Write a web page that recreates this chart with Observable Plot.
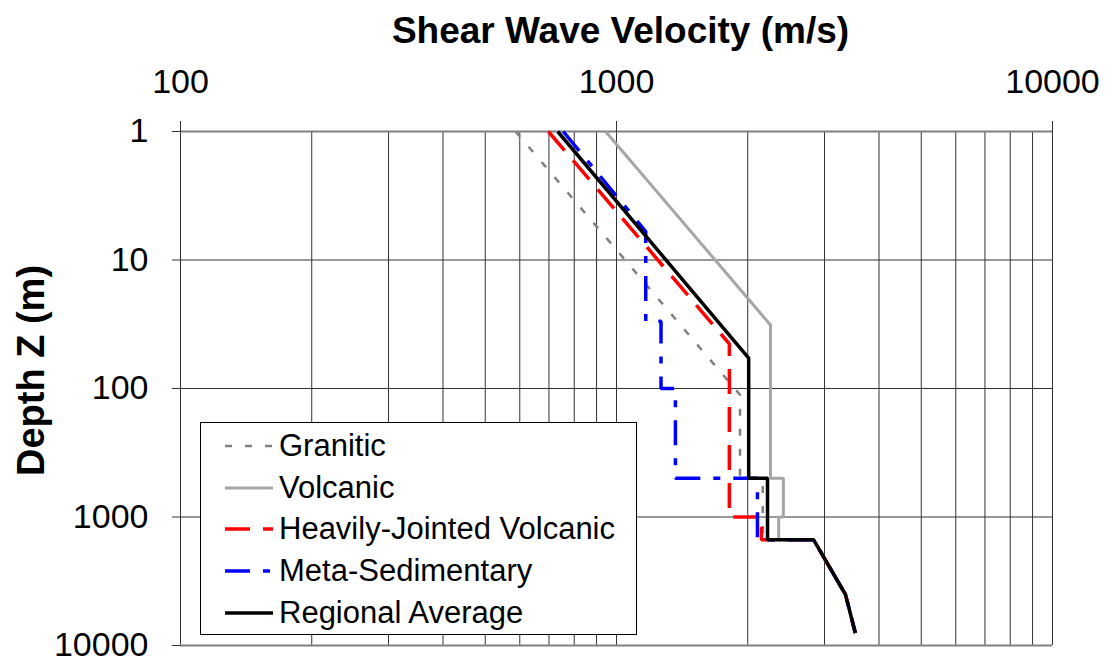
<!DOCTYPE html>
<html>
<head>
<meta charset="utf-8">
<script src="https://cdn.jsdelivr.net/npm/d3@7"></script>
<script src="https://cdn.jsdelivr.net/npm/@observablehq/plot@0.6"></script>
<style>
  body { margin: 0; background: #fff; font-family: "Liberation Sans", Arial, sans-serif; }
  #wrap { position: relative; width: 1116px; height: 666px; }
  #legend { position: absolute; left: 200px; top: 422px; width: 437px; height: 213px;
            border: 1px solid #000; background: #fff; box-sizing: border-box; }
  .row { position: absolute; left: 0; height: 42px; display: flex; align-items: center; }
  .row svg { margin-left: 24px; width: 48px; height: 12px; }
  .row span { margin-left: 6px; font-size: 31px; color: #000; white-space: nowrap; }
</style>
</head>
<body>
<div id="wrap"></div>
<script>
// ---- Data ----
const seriesNames = ["Granitic", "Volcanic", "Heavily-Jointed Volcanic", "Meta-Sedimentary", "Regional Average"];

const graniticVs = [587, 1920, 1920, 2165, 2165, 2830, 3350, 3530];
const graniticZ  = [1, 112, 500, 500, 1500, 1500, 4000, 8000];

const volcanicVs = [944, 2255, 2255, 2414, 2414, 2355, 2355, 2830, 3350, 3530];
const volcanicZ  = [1, 32, 500, 500, 1000, 1000, 1500, 1500, 4000, 8000];

const jointedVs = [698, 1815, 1815, 2150, 2150, 2830, 3350, 3530];
const jointedZ  = [1, 45, 1000, 1000, 1500, 1500, 4000, 8000];

const metaSedVs = [755, 1167, 1167, 1265, 1265, 1365, 1365, 2105, 2105, 2830, 3350, 3530];
const metaSedZ  = [1, 6, 30, 30, 100, 100, 500, 500, 1500, 1500, 4000, 8000];

const regionalVs = [733, 2010, 2010, 2220, 2220, 2830, 3350, 3530];
const regionalZ  = [1, 58, 500, 500, 1500, 1500, 4000, 8000];

const xTickLabels = [100, 1000, 10000];
const yTickLabels = [1, 10, 100, 1000, 10000];
const xGridValues = [100, 200, 300, 400, 500, 600, 700, 800, 900,
                     1000, 2000, 3000, 4000, 5000, 6000, 7000, 8000, 9000, 10000];
const xTitle = "Shear Wave Velocity (m/s)";
const yTitle = "Depth Z (m)";

// ---- Styles ----
const styles = [
  {stroke: "#808080", strokeWidth: 2.5, dash: "7,13"},
  {stroke: "#a6a6a6", strokeWidth: 3, dash: null},
  {stroke: "#ff0000", strokeWidth: 3.5, dash: "25,13"},
  {stroke: "#0000ff", strokeWidth: 3.5, dash: "25,13,7,13"},
  {stroke: "#000000", strokeWidth: 3.5, dash: null}
];

const seriesData = [
  [graniticVs, graniticZ],
  [volcanicVs, volcanicZ],
  [jointedVs, jointedZ],
  [metaSedVs, metaSedZ],
  [regionalVs, regionalZ]
].map(([vs, z], i) => vs.map((v, k) => ({series: seriesNames[i], vs: v, z: z[k]})));

const lineMarks = seriesData.map((rows, i) => Plot.line(rows, {
  x: "vs", y: "z",
  stroke: styles[i].stroke,
  strokeWidth: styles[i].strokeWidth,
  strokeDasharray: styles[i].dash || undefined,
  strokeLinejoin: "miter",
  strokeLinecap: "butt"
}));

const chart = Plot.plot({
  width: 1116,
  height: 666,
  marginTop: 131,
  marginBottom: 21,
  marginLeft: 180,
  marginRight: 64,
  style: {fontFamily: "'Liberation Sans', Arial, sans-serif", background: "#fff", color: "#000"},
  x: {type: "log", domain: [100, 10000]},
  y: {type: "log", domain: [1, 10000], reverse: true},
  marks: [
    Plot.ruleX(xGridValues, {stroke: "#333", strokeWidth: 1}),
    Plot.ruleY(yTickLabels, {stroke: "#333", strokeWidth: 1}),
    Plot.ruleY([yTickLabels[0], yTickLabels[yTickLabels.length - 1]], {stroke: "#808080", strokeWidth: 2}),
    ...lineMarks,
    Plot.axisX(xTickLabels, {anchor: "top", tickFormat: d => String(d), tickSize: 11, tickPadding: 28,
                             fontSize: 34, label: null, stroke: "#333"}),
    Plot.axisY(yTickLabels, {anchor: "left", tickFormat: d => String(d), tickSize: 8, tickPadding: 24,
                             fontSize: 34, label: null, stroke: "#333"}),
    Plot.text([xTitle], {frameAnchor: "top", dx: 4, dy: -89, lineAnchor: "bottom", textAnchor: "middle",
                         fontSize: 37, fontWeight: "bold", fill: "#000"}),
    Plot.text([yTitle], {frameAnchor: "left", textAnchor: "middle", lineAnchor: "middle", rotate: -90,
                         dx: -149, dy: -18, fontSize: 38, fontWeight: "bold", fill: "#000"})
  ]
});

const wrap = document.getElementById("wrap");
wrap.appendChild(chart);

// ---- Legend (HTML overlay inside the plot area) ----
const legend = document.createElement("div");
legend.id = "legend";
seriesNames.forEach((name, i) => {
  const row = document.createElement("div");
  row.className = "row";
  row.style.top = (2 + i * 41.7) + "px";
  const s = styles[i];
  row.innerHTML = `<svg viewBox="0 0 48 12"><line x1="0" y1="6" x2="48" y2="6" stroke="${s.stroke}" stroke-width="${s.strokeWidth}" ${s.dash ? `stroke-dasharray="${s.dash}"` : ""}/></svg><span>${name}</span>`;
  legend.appendChild(row);
});
wrap.appendChild(legend);
</script>
</body>
</html>
